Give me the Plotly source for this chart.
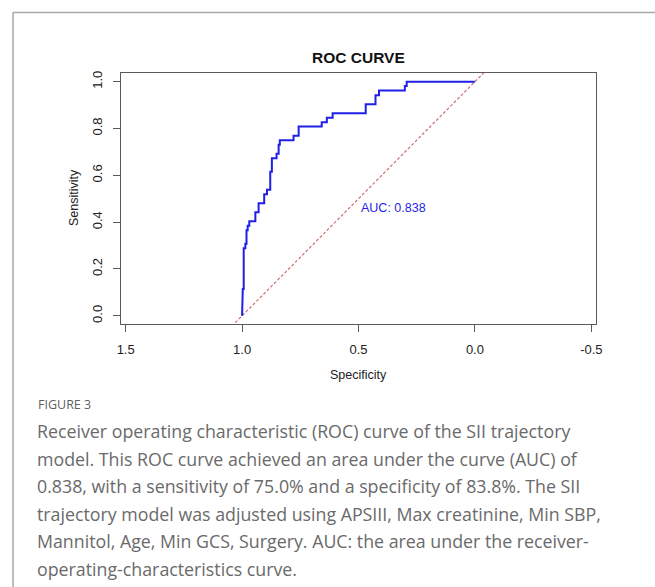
import plotly.graph_objects as go

# ROC curve vertices
specificity = [1.000, 1.000, 0.997, 0.997, 0.993, 0.993, 0.986, 0.986, 0.981, 0.981,
               0.976, 0.976, 0.969, 0.969, 0.943, 0.943, 0.929, 0.929, 0.905, 0.905,
               0.893, 0.893, 0.879, 0.879, 0.872, 0.872, 0.852, 0.852, 0.843, 0.843,
               0.838, 0.838, 0.779, 0.779, 0.757, 0.757, 0.658, 0.658, 0.636, 0.636,
               0.611, 0.611, 0.469, 0.469, 0.427, 0.427, 0.412, 0.412, 0.301, 0.301,
               0.293, 0.293, 0.000]
sensitivity = [0.000, 0.096, 0.096, 0.115, 0.115, 0.288, 0.288, 0.308, 0.308, 0.365,
               0.365, 0.385, 0.385, 0.404, 0.404, 0.442, 0.442, 0.481, 0.481, 0.519,
               0.519, 0.538, 0.538, 0.615, 0.615, 0.673, 0.673, 0.692, 0.692, 0.731,
               0.731, 0.750, 0.750, 0.769, 0.769, 0.808, 0.808, 0.827, 0.827, 0.846,
               0.846, 0.865, 0.865, 0.904, 0.904, 0.942, 0.942, 0.962, 0.962, 0.981,
               0.981, 1.000, 1.000]

tick_vals = [1.5, 1.0, 0.5, 0.0, -0.5]
tick_text = ["1.5", "1.0", "0.5", "0.0", "-0.5"]
y_tick_vals = [0.0, 0.2, 0.4, 0.6, 0.8, 1.0]
y_tick_text = ["0.0", "0.2", "0.4", "0.6", "0.8", "1.0"]
auc_value = 0.838

caption_title = "FIGURE 3"
caption_lines = [
    "Receiver operating characteristic (ROC) curve of the SII trajectory",
    "model. This ROC curve achieved an area under the curve (AUC) of",
    "0.838, with a sensitivity of 75.0% and a specificity of 83.8%. The SII",
    "trajectory model was adjusted using APSIII, Max creatinine, Min SBP,",
    "Mannitol, Age, Min GCS, Surgery. AUC: the area under the receiver-",
    "operating-characteristics curve.",
]

W, H = 655, 587
L, R, T, B = 121, 596, 73, 324
XR = [1.52, -0.52]
YR = [-0.035, 1.037]


def px(x):
    return (x - L) / (R - L)


def py(y):
    return (B - y) / (B - T)


diag_spec = [XR[0] + 0.1, XR[1] - 0.1]
diag_sens = [1 - s for s in diag_spec]

fig = go.Figure()
fig.add_trace(go.Scatter(x=diag_spec, y=diag_sens, mode="lines",
                         line=dict(color="#cd6f6f", width=1.2, dash="3px,2px"),
                         hoverinfo="skip", showlegend=False))
fig.add_trace(go.Scatter(x=specificity, y=sensitivity, mode="lines",
                         line=dict(color="#1f1fe6", width=2),
                         showlegend=False))

FAM = "Liberation Sans, Arial, sans-serif"
tick_font = dict(family=FAM, size=13, color="#222")
lab_font = dict(family=FAM, size=12.5, color="#222")

fig.update_layout(
    width=W, height=H,
    margin=dict(l=L, r=W - R, t=T, b=H - B),
    plot_bgcolor="white", paper_bgcolor="white",
    xaxis=dict(range=XR, tickvals=tick_vals, ticktext=tick_text, showgrid=False,
               zeroline=False, showline=True, linecolor="#5a5a5a", linewidth=1.3,
               mirror=True, ticks="outside", ticklen=7, tickcolor="#5a5a5a",
               tickfont=tick_font, ticklabelstandoff=6),
    yaxis=dict(range=YR, tickvals=y_tick_vals, ticktext=y_tick_text, showgrid=False,
               zeroline=False, showline=True, linecolor="#5a5a5a", linewidth=1.3,
               mirror=True, ticks="outside", ticklen=7, tickcolor="#5a5a5a",
               tickfont=tick_font, tickangle=-90, ticklabelstandoff=6),
    font=lab_font,
)

ann = []
ann.append(dict(text="<b>ROC CURVE</b>", x=0.5, y=py(57), xref="paper", yref="paper",
                showarrow=False, xanchor="center", yanchor="middle",
                font=dict(family=FAM, size=15.5, color="#111")))
ann.append(dict(text="Specificity", x=0.5, y=py(375), xref="paper", yref="paper",
                showarrow=False, xanchor="center", yanchor="middle", font=lab_font))
ann.append(dict(text="Sensitivity", x=px(74), y=py(198), xref="paper", yref="paper",
                showarrow=False, xanchor="center", yanchor="middle", textangle=-90,
                font=lab_font))
ann.append(dict(text="AUC: %.3f" % auc_value, x=0.5, y=0.5, xref="x", yref="y",
                showarrow=False, xanchor="left", yanchor="top",
                font=dict(family=FAM, size=12.5, color="#1f1fe6")))

cap_font = dict(family="Open Sans, sans-serif", size=17.8, color="#6a6a6a")
ann.append(dict(text=caption_title, x=px(36), y=py(404), xref="paper", yref="paper",
                showarrow=False, xanchor="left", yanchor="middle",
                font=dict(family="Open Sans, sans-serif", size=12.5, color="#5f5f5f")))
for i, line in enumerate(caption_lines):
    ann.append(dict(text=line, x=px(35), y=py(431 + i * 27.5), xref="paper", yref="paper",
                    showarrow=False, xanchor="left", yanchor="middle", font=cap_font))
fig.update_layout(annotations=ann)

# outer frame lines (top and left)
fig.add_shape(type="line", xref="paper", yref="paper", x0=px(13), x1=px(660),
              y0=py(12.5), y1=py(12.5), line=dict(color="#a8a8a8", width=1.5))
fig.add_shape(type="line", xref="paper", yref="paper", x0=px(13), x1=px(13),
              y0=py(12.5), y1=py(600), line=dict(color="#a8a8a8", width=1.5))

fig.write_html("out.html", config={"displayModeBar": False},
               post_script="document.body.style.margin='0';document.body.style.overflow='hidden';")
